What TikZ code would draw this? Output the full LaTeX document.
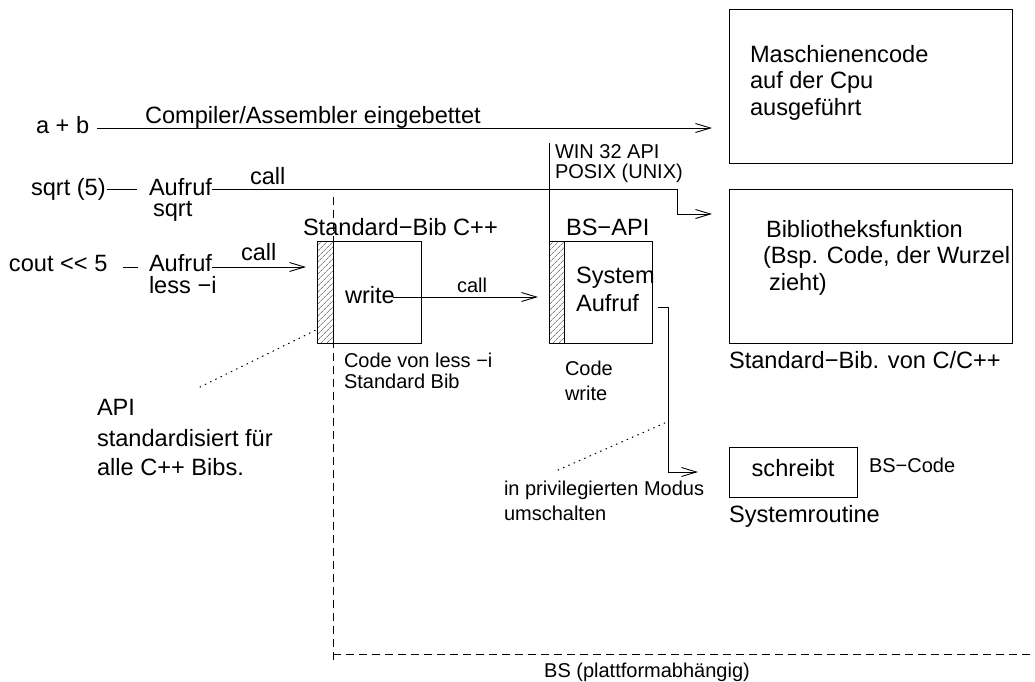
\documentclass[tikz,border=0pt]{standalone}
\usepackage{fontspec}
\setmainfont{Liberation Sans}
\usetikzlibrary{arrows.meta,patterns.meta}
\newcommand\fbig{\fontsize{23.6}{27}\selectfont}
\newcommand\fsmall{\fontsize{20}{23}\selectfont}
\begin{document}
\begin{tikzpicture}[x=1pt,y=-1pt,
  lbl/.style={inner sep=0,outer sep=0,anchor=base west,font=\fbig},
  slbl/.style={lbl,font=\fsmall},
  wire/.style={line width=0.9pt},
  arr/.style={wire,-{Straight Barb[length=15pt,width=9pt,line width=0.9pt]}},
  box/.style={draw,line width=0.9pt,inner sep=0,outer sep=0,anchor=north west},
  hatch/.style={box,pattern={Lines[angle=45,distance=4pt,line width=0.5pt]},pattern color=black!75},
  fence/.style={line width=0.9pt,dash pattern=on 8pt off 5pt},
  hint/.style={line width=1.1pt,dash pattern=on 0.8pt off 5pt,line cap=round}
]
\useasboundingbox (0,0) rectangle (1035,681);

% boxes
\node[box,minimum width=283,minimum height=154] (cpu) at (729,9) {};
\node[box,minimum width=283,minimum height=154] (lib) at (729,189) {};
\node[hatch,minimum width=16,minimum height=102] (stdapi) at (317,241) {};
\node[box,minimum width=88,minimum height=102] (stdbib) at (333,241) {};
\node[hatch,minimum width=15,minimum height=102] (bsapi) at (549,241) {};
\node[box,minimum width=88,minimum height=102] (syscall) at (564,241) {};
\node[box,minimum width=128,minimum height=50] (routine) at (729,447) {};

% texts inside the boxes
\node[lbl] (cpu1) at (750,62) {Maschienencode};
\node[lbl] (cpu2) at (750,88) {auf der Cpu};
\node[lbl] (cpu3) at (750,115) {ausgeführt};
\node[lbl] (lib1) at (766,237) {Bibliotheksfunktion};
\node[lbl] (lib2) at (763,263) {(Bsp. Code, der Wurzel};
\node[lbl] (lib3) at (769,290) {zieht)};
\node[lbl] (libcap) at (729,368) {Standard−Bib. von C/C++};
\node[lbl] (write) at (345,303) {write};
\node[lbl] (sys1) at (576,283) {System};
\node[lbl] (sys2) at (576,311) {Aufruf};
\node[inner sep=0,outer sep=0,anchor=base,font=\fbig] (schreibt) at (793,476) {schreibt};
\node[lbl] (routcap) at (729,522) {Systemroutine};
\node[slbl] (bscode) at (869,472) {BS−Code};

% left column
\node[lbl] (ab) at (36,133) {a + b};
\node[lbl] (comp) at (145,123) {Compiler/Assembler eingebettet};
\node[lbl] (sqrt) at (31,195) {sqrt (5)};
\node[lbl] (auf1) at (149,195) {Aufruf};
\node[lbl] (auf1b) at (153,216) {sqrt};
\node[lbl] (call1) at (250,184) {call};
\node[lbl] (cout) at (9,271) {cout <\kern0pt< 5};
\node[lbl] (auf2) at (149,271) {Aufruf};
\node[lbl] (auf2b) at (149,293) {less −i};
\node[lbl] (call2) at (241,260) {call};
\node[lbl] (stdhead) at (303,235) {Standard−Bib C++};
\node[lbl] (bshead) at (566,235) {BS−API};
\node[slbl] (call3) at (457,292) {call};
\node[slbl] (win) at (555,158) {WIN 32 API};
\node[slbl] (posix) at (555,178) {POSIX (UNIX)};
\node[slbl] (codeless1) at (344,367) {Code von less −i};
\node[slbl] (codeless2) at (344,388) {Standard Bib};
\node[slbl] (codew1) at (565,375) {Code};
\node[slbl] (codew2) at (565,400) {write};
\node[lbl] (api1) at (97,415) {API};
\node[lbl] (api2) at (97,446) {standardisiert für};
\node[lbl] (api3) at (97,475) {alle C++ Bibs.};
\node[slbl] (priv1) at (504,495) {in privilegierten Modus};
\node[slbl] (priv2) at (504,520) {umschalten};
\node[inner sep=0,outer sep=0,anchor=base,font=\fsmall] (bs) at (647,677) {BS (plattformabhängig)};

% connector points
\coordinate (abL) at (97,128);
\coordinate (abTip) at (712,128);
\coordinate (sqL) at (107,189);
\coordinate (sqR) at (137,189);
\coordinate (sqCall) at (212,189);
\coordinate (sqStep) at (677,214);
\coordinate (sqTip) at (712,214);
\coordinate (coL) at (123,267);
\coordinate (coR) at (138,267);
\coordinate (coCall) at (212,267);
\coordinate (coTip) at (306,267);
\coordinate (wrL) at (393,297);
\coordinate (wrTip) at (538,297);
\coordinate (scL) at (658,307);
\coordinate (scBend) at (668,472);
\coordinate (scTip) at (698,472);
\coordinate (apiTop) at (549,143);
\coordinate (fenceTop) at (333,197);
\coordinate (fenceBot) at (333,663);
\coordinate (fenceCorner) at (333,654);
\coordinate (fenceEnd) at (1035,654);
\coordinate (noteA) at (200,387);
\coordinate (noteAend) at (316,330);
\coordinate (noteB) at (558,470);
\coordinate (noteBend) at (667,422);

% connectors
\draw[arr] (abL) -- (abTip);
\draw[wire] (sqL) -- (sqR);
\draw[arr] (sqCall) -| (sqStep) -- (sqTip);
\draw[wire] (coL) -- (coR);
\draw[arr] (coCall) -- (coTip);
\draw[arr] (wrL) -- (wrTip);
\draw[arr] (scL) -| (scBend) -- (scTip);
\draw[wire] (apiTop) -- (bsapi.north west);
\draw[fence] (fenceTop) -- (fenceBot);
\draw[fence] (fenceCorner) -- (fenceEnd);
\draw[hint] (noteA) -- (noteAend);
\draw[hint] (noteB) -- (noteBend);
\end{tikzpicture}
\end{document}
